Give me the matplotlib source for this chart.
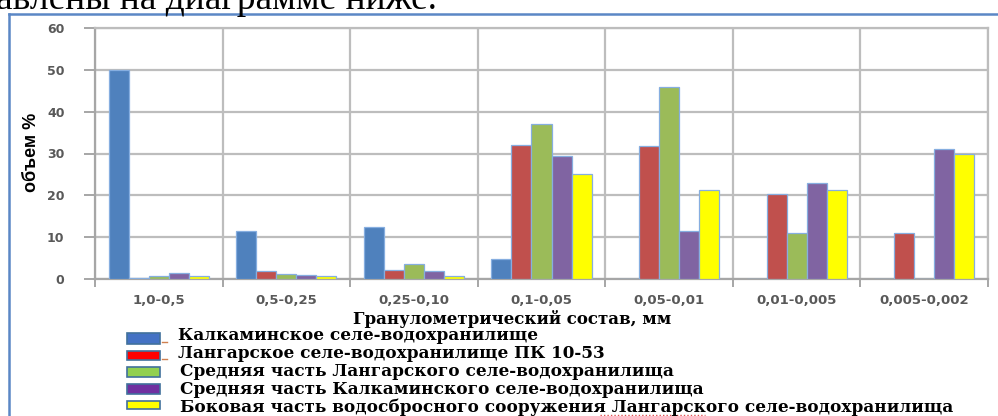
import matplotlib
matplotlib.use("Agg")
import matplotlib.pyplot as plt
import numpy as np
from matplotlib.patches import Rectangle
from matplotlib.lines import Line2D

# Grain-size fractions (mm)
categories = ["1,0-0,5", "0,5-0,25", "0,25-0,10", "0,1-0,05",
              "0,05-0,01", "0,01-0,005", "0,005-0,002"]

# Volume share, %
kalkaminskoe = [50.0, 11.5, 12.4, 4.7, 0.0, 0.0, 0.0]
langarskoe_pk = [0.2, 1.8, 2.1, 32.1, 31.7, 20.2, 10.9]
mid_langarskoe = [0.7, 1.3, 3.5, 37.0, 45.8, 10.9, 0.0]
mid_kalkaminskoe = [1.5, 1.0, 1.8, 29.4, 11.4, 22.9, 31.0]
side_spillway = [0.6, 0.6, 0.6, 25.2, 21.2, 21.2, 29.8]

series_labels = [
    "Калкаминское селе-водохранилище",
    "Лангарское селе-водохранилище ПК 10-53",
    "Средняя часть Лангарского селе-водохранилища",
    "Средняя часть Калкаминского селе-водохранилища",
    "Боковая часть водосбросного сооружения Лангарского селе-водохранилища",
]
series = [kalkaminskoe, langarskoe_pk, mid_langarskoe, mid_kalkaminskoe, side_spillway]
bar_colors = ["#4f81bd", "#c0504d", "#9bbb59", "#8064a2", "#ffff00"]
legend_colors = ["#4472c4", "#ff0000", "#92d050", "#7030a0", "#ffff00"]

y_ticks = [0, 10, 20, 30, 40, 50, 60]

W, H = 998, 416
fig = plt.figure(figsize=(W / 100, H / 100), dpi=100)
fig.patch.set_facecolor("white")


def fx(px):
    return px / W


def fy(py):
    return 1 - py / H


# Heading line of the surrounding text (cut at the top edge)
fig.text(fx(-4), fy(9), "авлены на диаграмме ниже.", family="Liberation Serif",
         fontsize=27, ha="left", va="baseline", color="black")

# Chart frame (blue top and left border)
fig.add_artist(Line2D([fx(9), fx(W + 5)], [fy(14), fy(14)], color="#5b87c5", lw=1.8))
fig.add_artist(Line2D([fx(9), fx(9)], [fy(14), fy(H + 5)], color="#5b87c5", lw=1.8))

ax = fig.add_axes([fx(95), fy(279), fx(988) - fx(95), fy(28) - fy(279)])
n_cat = len(categories)
x = np.arange(n_cat)
bw = 0.157
offsets = (np.arange(len(series)) - 2) * bw
for vals, col, off in zip(series, bar_colors, offsets):
    ax.bar(x + off, vals, width=bw, color=col, edgecolor="#86aee0", linewidth=0.9, zorder=3)

ax.set_xlim(-0.5, n_cat - 0.5)
ax.set_ylim(0, 60)
ax.set_yticks(y_ticks)
ax.set_yticklabels([str(v) for v in y_ticks])
ax.set_xticks(x)
ax.set_xticklabels(categories)
ax.set_xticks(np.arange(n_cat + 1) - 0.5, minor=True)

grid_col = "#bdbdbd"
ax.yaxis.grid(True, color=grid_col, lw=1.6, zorder=0)
ax.xaxis.grid(True, which="minor", color=grid_col, lw=1.6, zorder=0)
ax.xaxis.grid(False, which="major")
for s in ["top", "right"]:
    ax.spines[s].set_color(grid_col)
    ax.spines[s].set_linewidth(1.6)
for s in ["left", "bottom"]:
    ax.spines[s].set_color("#a6a6a6")
    ax.spines[s].set_linewidth(1.6)

tick_col = "#595959"
ax.tick_params(axis="y", length=8, width=1.4, color="#a6a6a6", pad=14,
               labelsize=9, labelcolor=tick_col)
ax.tick_params(axis="x", which="major", length=0, pad=11, labelsize=9.5, labelcolor=tick_col)
ax.tick_params(axis="x", which="minor", length=6, width=1.4, color="#a6a6a6")
for lab in ax.get_xticklabels() + ax.get_yticklabels():
    lab.set_fontweight("bold")
    lab.set_family("DejaVu Sans")

fig.text(fx(31), fy(152), "объем %", rotation=90, ha="center", va="center",
         family="Liberation Sans", fontweight="bold", fontsize=13, color="black")

# Axis title and legend set in the document font
fig.text(fx(512), fy(319), "Гранулометрический состав, мм", family="DejaVu Serif",
         fontweight="bold", fontsize=12, ha="center", va="center", color="black")

rows_sq = [(333, 344), (351, 360), (367, 377), (384, 394), (401, 409)]
rows_txt = [336, 354, 372, 390, 407]
txt_x = [178, 178, 180, 180, 180]
for (t, b), ty, tx, col, lab in zip(rows_sq, rows_txt, txt_x, legend_colors, series_labels):
    fig.add_artist(Rectangle((fx(127), fy(b)), fx(160) - fx(127), fy(t) - fy(b),
                             facecolor=col, edgecolor="#41719c", lw=1.2))
    fig.text(fx(tx), fy(ty), lab, family="DejaVu Serif", fontweight="bold",
             fontsize=12.2, ha="left", va="center", color="black")

# Small dash marks after the first two swatches
for yy in (342, 359):
    fig.add_artist(Line2D([fx(162), fx(167)], [fy(yy), fy(yy)], color="#d08050", lw=1))

# Dotted proofing underline beneath one legend word
fig.add_artist(Line2D([fx(600), fx(705)], [fy(414.5), fy(414.5)], color="#e05050",
                      lw=1, ls=(0, (1, 1.5))))

fig.savefig("out.png", dpi=100, facecolor="white")
